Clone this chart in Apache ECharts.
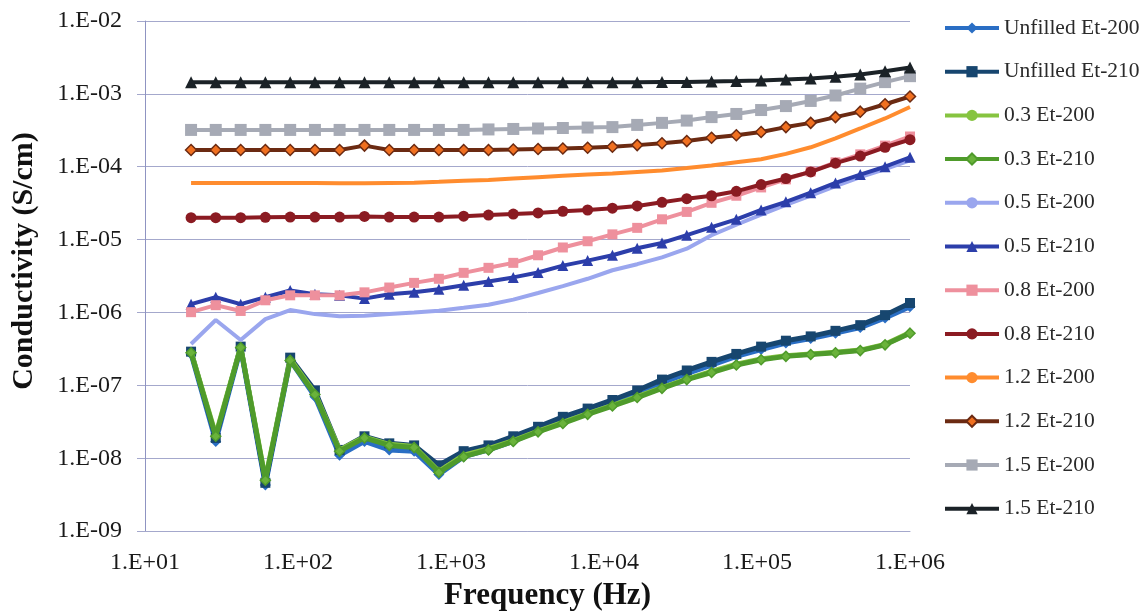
<!DOCTYPE html>
<html>
<head>
<meta charset="utf-8">
<script src="https://cdn.jsdelivr.net/npm/echarts@6/dist/echarts.min.js"></script>
<style>html,body{margin:0;padding:0;background:#fff;}#c{width:1147px;height:616px;}</style>
</head>
<body>
<div id="c"></div>
<script>
// Frequencies (Hz)
var freqs = [20, 29, 42.2, 61.2, 88.9, 129, 187, 272, 395, 574, 833, 1210, 1758, 2553, 3707,
  5383, 7816, 11350, 16480, 23930, 34750, 50460, 73280, 106400, 154500, 224400, 325800, 473100, 687000, 1000000];

var seriesNames = ['Unfilled Et-200', 'Unfilled Et-210', '0.3 Et-200', '0.3 Et-210', '0.5 Et-200', '0.5 Et-210',
  '0.8 Et-200', '0.8 Et-210', '1.2 Et-200', '1.2 Et-210', '1.5 Et-200', '1.5 Et-210'];

var unfilled200 = [2.7e-7, 1.7e-8, 3.2e-7, 4.3e-9, 2.2e-7, 7.0e-8, 1.1e-8, 1.7e-8, 1.3e-8, 1.25e-8, 6.0e-9, 1.05e-8, 1.3e-8, 1.7e-8, 2.4e-8,
  3.3e-8, 4.3e-8, 5.6e-8, 7.8e-8, 1.08e-7, 1.45e-7, 1.9e-7, 2.5e-7, 3.1e-7, 3.8e-7, 4.4e-7, 5.2e-7, 6.2e-7, 8.4e-7, 1.2e-6];
var unfilled210 = [2.9e-7, 1.9e-8, 3.4e-7, 4.6e-9, 2.4e-7, 8.5e-8, 1.3e-8, 2.0e-8, 1.6e-8, 1.5e-8, 8.0e-9, 1.25e-8, 1.5e-8, 2.0e-8, 2.7e-8,
  3.7e-8, 4.8e-8, 6.3e-8, 8.5e-8, 1.2e-7, 1.6e-7, 2.1e-7, 2.7e-7, 3.4e-7, 4.1e-7, 4.7e-7, 5.6e-7, 6.7e-7, 9.2e-7, 1.35e-6];
var f03_200 = [2.9e-7, 2.1e-8, 3.4e-7, 5.2e-9, 2.3e-7, 7.8e-8, 1.3e-8, 1.95e-8, 1.55e-8, 1.45e-8, 6.6e-9, 1.1e-8, 1.35e-8, 1.75e-8, 2.35e-8,
  3.1e-8, 4.1e-8, 5.3e-8, 7.0e-8, 9.3e-8, 1.22e-7, 1.55e-7, 1.95e-7, 2.3e-7, 2.55e-7, 2.7e-7, 2.85e-7, 3.05e-7, 3.65e-7, 5.3e-7];
var f03_210 = [2.8e-7, 2.0e-8, 3.3e-7, 5.0e-9, 2.2e-7, 7.5e-8, 1.25e-8, 1.9e-8, 1.5e-8, 1.4e-8, 6.4e-9, 1.05e-8, 1.3e-8, 1.7e-8, 2.3e-8,
  3.0e-8, 4.0e-8, 5.2e-8, 6.8e-8, 9.1e-8, 1.2e-7, 1.5e-7, 1.9e-7, 2.25e-7, 2.5e-7, 2.65e-7, 2.8e-7, 3.0e-7, 3.6e-7, 5.2e-7];
var f05_200 = [3.7e-7, 7.9e-7, 4.2e-7, 8.1e-7, 1.08e-6, 9.5e-7, 8.9e-7, 9.0e-7, 9.5e-7, 1.0e-6, 1.06e-6, 1.16e-6, 1.28e-6, 1.5e-6, 1.85e-6,
  2.3e-6, 2.9e-6, 3.8e-6, 4.6e-6, 5.7e-6, 7.5e-6, 1.15e-5, 1.6e-5, 2.2e-5, 3.0e-5, 4.0e-5, 5.4e-5, 7.2e-5, 9.3e-5, 1.22e-4];
var f05_210 = [1.3e-6, 1.62e-6, 1.3e-6, 1.62e-6, 2.0e-6, 1.78e-6, 1.72e-6, 1.55e-6, 1.78e-6, 1.89e-6, 2.08e-6, 2.36e-6, 2.67e-6, 3.03e-6, 3.54e-6,
  4.4e-6, 5.15e-6, 6.1e-6, 7.6e-6, 9.0e-6, 1.15e-5, 1.48e-5, 1.9e-5, 2.55e-5, 3.3e-5, 4.4e-5, 6.0e-5, 7.8e-5, 1.0e-4, 1.35e-4];
var f08_200 = [1.01e-6, 1.26e-6, 1.05e-6, 1.47e-6, 1.72e-6, 1.72e-6, 1.72e-6, 1.89e-6, 2.2e-6, 2.55e-6, 2.9e-6, 3.5e-6, 4.1e-6, 4.8e-6, 6.1e-6,
  7.8e-6, 9.5e-6, 1.18e-5, 1.45e-5, 1.9e-5, 2.4e-5, 3.2e-5, 4.0e-5, 5.2e-5, 6.7e-5, 8.6e-5, 1.15e-4, 1.48e-4, 1.95e-4, 2.6e-4];
var f08_210 = [2.0e-5, 2.0e-5, 2.0e-5, 2.02e-5, 2.04e-5, 2.04e-5, 2.04e-5, 2.08e-5, 2.04e-5, 2.04e-5, 2.04e-5, 2.1e-5, 2.17e-5, 2.24e-5, 2.32e-5,
  2.45e-5, 2.55e-5, 2.7e-5, 2.9e-5, 3.25e-5, 3.65e-5, 4.0e-5, 4.6e-5, 5.7e-5, 6.9e-5, 8.5e-5, 1.12e-4, 1.4e-4, 1.85e-4, 2.35e-4];
var f12_200 = [6.0e-5, 6.0e-5, 6.0e-5, 6.0e-5, 6.0e-5, 6.0e-5, 5.95e-5, 5.95e-5, 6.0e-5, 6.05e-5, 6.2e-5, 6.4e-5, 6.6e-5, 6.9e-5, 7.2e-5,
  7.5e-5, 7.8e-5, 8.1e-5, 8.5e-5, 8.9e-5, 9.6e-5, 1.04e-4, 1.15e-4, 1.27e-4, 1.5e-4, 1.85e-4, 2.45e-4, 3.35e-4, 4.6e-4, 6.6e-4];
var f12_210 = [1.7e-4, 1.7e-4, 1.7e-4, 1.7e-4, 1.7e-4, 1.7e-4, 1.7e-4, 1.95e-4, 1.7e-4, 1.7e-4, 1.7e-4, 1.7e-4, 1.7e-4, 1.72e-4, 1.75e-4,
  1.78e-4, 1.82e-4, 1.88e-4, 1.98e-4, 2.1e-4, 2.25e-4, 2.5e-4, 2.7e-4, 3.0e-4, 3.5e-4, 4.0e-4, 4.8e-4, 5.7e-4, 7.2e-4, 9.2e-4];
var f15_200 = [3.2e-4, 3.2e-4, 3.2e-4, 3.2e-4, 3.2e-4, 3.2e-4, 3.2e-4, 3.2e-4, 3.2e-4, 3.2e-4, 3.2e-4, 3.2e-4, 3.25e-4, 3.3e-4, 3.35e-4,
  3.4e-4, 3.45e-4, 3.5e-4, 3.75e-4, 4.0e-4, 4.3e-4, 4.8e-4, 5.3e-4, 6.0e-4, 6.8e-4, 8.0e-4, 9.5e-4, 1.18e-3, 1.45e-3, 1.75e-3];
var f15_210 = [1.44e-3, 1.44e-3, 1.44e-3, 1.44e-3, 1.44e-3, 1.44e-3, 1.44e-3, 1.44e-3, 1.44e-3, 1.44e-3, 1.44e-3, 1.44e-3, 1.44e-3, 1.44e-3, 1.44e-3,
  1.44e-3, 1.44e-3, 1.44e-3, 1.44e-3, 1.45e-3, 1.46e-3, 1.48e-3, 1.5e-3, 1.53e-3, 1.57e-3, 1.63e-3, 1.72e-3, 1.85e-3, 2.05e-3, 2.3e-3];

var yTickLabels = ['1.E-09', '1.E-08', '1.E-07', '1.E-06', '1.E-05', '1.E-04', '1.E-03', '1.E-02'];
var xTickLabels = ['1.E+01', '1.E+02', '1.E+03', '1.E+04', '1.E+05', '1.E+06'];

var allValues = [unfilled200, unfilled210, f03_200, f03_210, f05_200, f05_210, f08_200, f08_210, f12_200, f12_210, f15_200, f15_210];

var styles = [
  {color: '#2a6ec4', symbol: 'diamond', size: 11, width: 5},
  {color: '#17466f', symbol: 'rect', size: 10, width: 5},
  {color: '#86c440', symbol: 'none', size: 0, width: 5},
  {color: '#4f9b2b', symbol: 'diamond', size: 10, width: 5, itemColor: '#6ab33b'},
  {color: '#9aa6ee', symbol: 'none', size: 0, width: 4},
  {color: '#2c3eaa', symbol: 'triangle', size: 11, width: 4},
  {color: '#ee909d', symbol: 'rect', size: 10, width: 4},
  {color: '#8b1b22', symbol: 'circle', size: 11, width: 4},
  {color: '#ff8c2e', symbol: 'none', size: 0, width: 4},
  {color: '#6b2a12', symbol: 'diamond', size: 11, width: 4, itemColor: '#f07020'},
  {color: '#a6aab5', symbol: 'rect', size: 12, width: 4},
  {color: '#1b2227', symbol: 'triangle', size: 12, width: 4}
];

function expLabel(v, labels, base) {
  var e = Math.round(Math.log(v) / Math.LN10);
  return labels[e - base] || '';
}

var series = seriesNames.map(function (name, k) {
  var s = styles[k];
  var vals = allValues[k];
  return {
    name: name,
    type: 'line',
    data: freqs.map(function (f, i) { return [f, vals[i]]; }),
    symbol: s.symbol,
    showSymbol: s.symbol !== 'none',
    symbolSize: s.size,
    lineStyle: {color: s.color, width: s.width},
    itemStyle: {color: s.itemColor || s.color, borderColor: s.color, borderWidth: s.itemColor ? 1.5 : 0},
    z: 2 + k
  };
});

var chart = echarts.init(document.getElementById('c'), null, {renderer: 'canvas'});
chart.setOption({
  animation: false,
  backgroundColor: '#ffffff',
  grid: {left: 145, right: 237, top: 21, bottom: 80, containLabel: false},
  legend: {
    orient: 'vertical',
    left: 938,
    top: 12,
    itemWidth: 54,
    itemHeight: 14,
    itemGap: 21.7,
    lineStyle: {width: 4},
    textStyle: {fontFamily: 'Liberation Serif', fontSize: 21.5, lineHeight: 22, color: '#2a2a2a'},
    data: seriesNames
  },
  xAxis: {
    type: 'log',
    logBase: 10,
    min: 10,
    max: 1000000,
    splitNumber: 5,
    name: 'Frequency (Hz)',
    nameLocation: 'middle',
    nameGap: 48,
    nameTextStyle: {fontFamily: 'Liberation Serif', fontWeight: 'bold', fontSize: 31, color: '#111', padding: [0, 0, 0, 40]},
    axisLine: {show: true, lineStyle: {color: '#a4a8cc', width: 1}},
    axisTick: {show: false},
    splitLine: {show: false},
    axisLabel: {
      margin: 20,
      fontFamily: 'Liberation Serif', fontSize: 24, color: '#1a1a1a',
      formatter: function (v) { return expLabel(v, xTickLabels, 1); }
    }
  },
  yAxis: {
    type: 'log',
    logBase: 10,
    min: 1e-9,
    max: 1e-2,
    splitNumber: 7,
    name: 'Conductivity (S/cm)',
    nameLocation: 'middle',
    nameGap: 106,
    nameTextStyle: {fontFamily: 'Liberation Serif', fontWeight: 'bold', fontSize: 30, color: '#111', padding: [0, 0, 0, 30]},
    axisLine: {show: true, lineStyle: {color: '#8f94c2', width: 1}},
    axisTick: {show: true, length: 8, lineStyle: {color: '#a4a8cc'}},
    splitLine: {show: true, lineStyle: {color: '#a4a8cc', width: 1}},
    axisLabel: {
      margin: 23,
      fontFamily: 'Liberation Serif', fontSize: 24, color: '#1a1a1a',
      formatter: function (v) { return expLabel(v, yTickLabels, -9); }
    }
  },
  series: series
});
</script>
</body>
</html>
